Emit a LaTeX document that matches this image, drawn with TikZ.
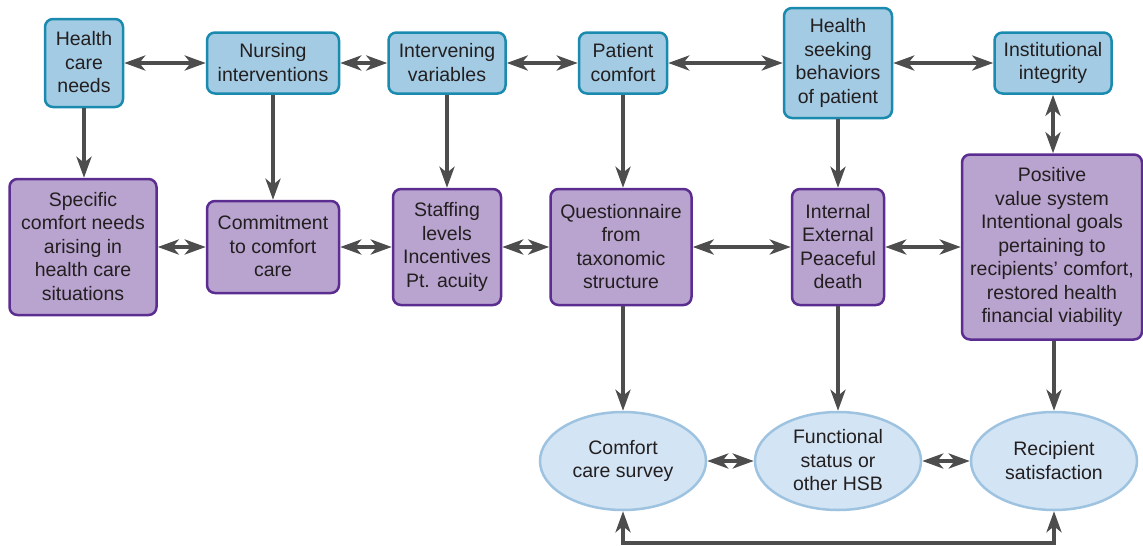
\documentclass[tikz,border=0pt]{standalone}
\usepackage{fontspec}
\setmainfont{Liberation Sans}
\usetikzlibrary{arrows.meta,shapes.geometric}
\definecolor{bluefill}{HTML}{A3CBE3}
\definecolor{blueline}{HTML}{1A8AAE}
\definecolor{purfill}{HTML}{B9A3CF}
\definecolor{purline}{HTML}{5B2D90}
\definecolor{ellfill}{HTML}{D3E4F4}
\definecolor{ellline}{HTML}{9EC3E0}
\definecolor{conn}{HTML}{4D4D4D}
\definecolor{txt}{HTML}{231F20}
% invisible rule giving every first and last line the same height and depth
\newcommand{\linestrut}{\rule[-1.5pt]{0pt}{23.5pt}}
\tikzset{
  x=1pt, y=1pt,
  label font/.style={text=txt, font=\fontsize{19.5}{23.5}\selectfont,
    execute at begin node=\linestrut, execute at end node=\linestrut},
  box/.style={rounded corners=8pt, line width=2.5pt, inner sep=0pt, align=center,
    label font},
  topbox/.style={box, fill=bluefill, draw=blueline},
  midbox/.style={box, fill=purfill, draw=purline},
  outcome/.style={ellipse, fill=ellfill, draw=ellline, line width=2.5pt, inner sep=0pt,
    minimum width=166pt, minimum height=98pt, align=center, label font},
  link/.style={draw=conn, line width=4pt,
    -{Stealth[length=21pt,width=15pt,inset=6pt]}},
  biglink/.style={draw=conn, line width=4pt,
    {Stealth[length=21pt,width=15pt,inset=6pt]}-{Stealth[length=21pt,width=15pt,inset=6pt]}}
}
\begin{document}
\begin{tikzpicture}
\useasboundingbox (0,0) rectangle (1143,-546);

% top row: concepts
\node[topbox, minimum width=78pt, minimum height=88pt] (hcn) at (84,-63) {Health\\care\\needs};
\node[topbox, minimum width=132pt, minimum height=61pt] (nur) at (273,-63) {Nursing\\interventions};
\node[topbox, minimum width=117pt, minimum height=61pt] (iv) at (447,-63) {Intervening\\variables};
\node[topbox, minimum width=88pt, minimum height=61pt] (pc) at (623,-63) {Patient\\comfort};
\node[topbox, minimum width=108pt, minimum height=110pt] (hsb) at (838,-63) {Health\\seeking\\behaviors\\of patient};
\node[topbox, minimum width=117pt, minimum height=61pt] (ii) at (1053,-63) {Institutional\\integrity};

% middle row: operational definitions
\node[midbox, minimum width=147pt, minimum height=136pt] (scn) at (83,-247) {Specific\\comfort needs\\arising in\\health care\\situations};
\node[midbox, minimum width=132pt, minimum height=92pt] (cc) at (273,-247) {Commitment\\to comfort\\care};
\node[midbox, minimum width=108pt, minimum height=116pt] (sl) at (447,-247) {Staffing\\levels\\Incentives\\Pt. acuity};
\node[midbox, minimum width=141pt, minimum height=116pt] (q) at (621,-247) {Questionnaire\\from\\taxonomic\\structure};
\node[midbox, minimum width=92pt, minimum height=116pt] (ie) at (838,-247) {Internal\\External\\Peaceful\\death};
\node[midbox, minimum width=180pt, minimum height=185pt] (pv) at (1052,-247) {Positive\\value system\\Intentional goals\\pertaining to\\recipients’ comfort,\\restored health\\financial viability};

% bottom row: outcomes
\node[outcome] (cs) at (623,-461) {Comfort\\care survey};
\node[outcome] (fs) at (838,-461) {Functional\\status or\\other HSB};
\node[outcome] (rs) at (1054,-461) {Recipient\\satisfaction};

% horizontal links, top row
\draw[biglink] (hcn.east) -- (nur.west);
\draw[biglink] (nur.east) -- (iv.west);
\draw[biglink] (iv.east) -- (pc.west);
\draw[biglink] (pc.east) -- (hsb.west);
\draw[biglink] (hsb.east) -- (ii.west);

% horizontal links, middle row
\draw[biglink] (scn.east) -- (cc.west);
\draw[biglink] (cc.east) -- (sl.west);
\draw[biglink] (sl.east) -- (q.west);
\draw[biglink] (q.east) -- (ie.west);
\draw[biglink] (ie.east) -- (pv.west);

% horizontal links, outcomes
\draw[biglink] (cs.east) -- (fs.west);
\draw[biglink] (fs.east) -- (rs.west);

% vertical links
\draw[link] (hcn.south) -- (hcn.south |- scn.north);
\draw[link] (nur.south) -- (cc.north);
\draw[link] (iv.south) -- (sl.north);
\draw[link] (pc.south) -- (pc.south |- q.north);
\draw[link] (hsb.south) -- (ie.north);
\draw[biglink] (ii.south) -- (ii.south |- pv.north);
\draw[link] (q.south -| cs.north) -- (cs.north);
\draw[link] (ie.south) -- (fs.north);
\draw[link] (pv.south -| rs.north) -- (rs.north);

% loop joining the first and last outcomes
\coordinate (lb) at (623,-543);
\draw[biglink, sharp corners] (cs.south) -- (lb) -| (rs.south);
\end{tikzpicture}
\end{document}
